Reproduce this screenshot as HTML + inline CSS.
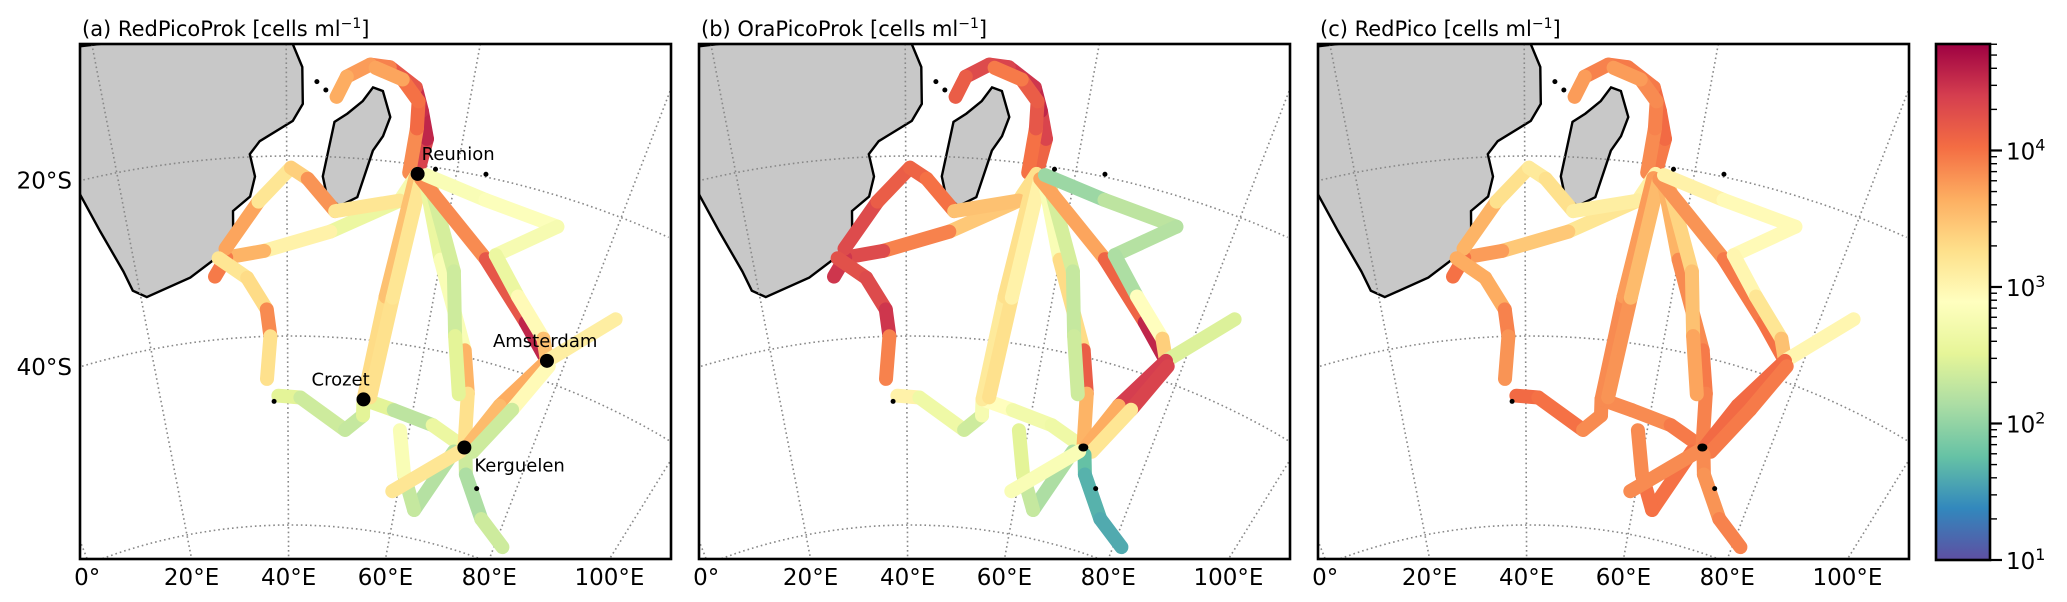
<!DOCTYPE html>
<html><head><meta charset="utf-8">
<style>
html,body{margin:0;padding:0;background:#fff;width:2067px;height:602px;overflow:hidden;}
svg{display:block;font-family:"DejaVu Sans","Liberation Sans",sans-serif;}
</style></head>
<body>
<svg id="fig" width="2067" height="602" viewBox="0 0 2067 602" xmlns="http://www.w3.org/2000/svg">
<defs>
<clipPath id="pclip"><rect x="0" y="44" width="591" height="515"/></clipPath>
<linearGradient id="cbgrad" x1="0" y1="1" x2="0" y2="0">
<stop offset="0" stop-color="#5e4fa2"/><stop offset="0.1" stop-color="#3288bd"/><stop offset="0.2" stop-color="#66c2a5"/><stop offset="0.3" stop-color="#abdda4"/><stop offset="0.4" stop-color="#e6f598"/><stop offset="0.5" stop-color="#ffffbf"/><stop offset="0.6" stop-color="#fee08b"/><stop offset="0.7" stop-color="#fdae61"/><stop offset="0.8" stop-color="#f46d43"/><stop offset="0.9" stop-color="#d53e4f"/><stop offset="1" stop-color="#9e0142"/>
</linearGradient>
</defs>
</svg>
<script>
// ---- data ----
const panelTitles = ["(a) RedPicoProk [cells ml", "(b) OraPicoProk [cells ml", "(c) RedPico [cells ml"];
const lonTicks = [0, 20, 40, 60, 80, 100];
const lonTickLabels = ["0°", "20°E", "40°E", "60°E", "80°E", "100°E"];
const latTicks = [-20, -40];
const latTickLabels = ["20°S", "40°S"];
const cbTicks = [1, 2, 3, 4];
const cbMin = 1, cbMax = 4.78;
// track waypoints (lon, lat)
const trackLon = [
 [55.5,56,55,54,51,48.9,46.5,45.5],
 [54.5,54.7,54.5,52.5,49.5],
 [55.5,53.8,45.5,37,32,30.3],
 [32,36.5,40.5,42.5,46,53.8],
 [31,34.6,37.1,37.5,36.8],
 [38.5,42,49.5,52.2,52,57,63.6,69.5],
 [52,53.5,55.3],
 [53,54.5,56],
 [56.5,60,65.8,67.8,69.5],
 [57,62,64,66.5],
 [56,65.7,73,77.5],
 [56.5,64,73.2,66.8,71,76,77.5],
 [77.5,84.1],
 [77.5,73,69.8],
 [78,75,71],
 [70,71,76,81.5],
 [68,63.6,60.5,58.5],
 [69,59]
];
const trackLat = [
 [-21,-17,-14,-11.5,-9.6,-9.5,-11,-13.3],
 [-21,-16,-13,-10.8,-9.8],
 [-21,-24.2,-28.3,-30.5,-31,-33],
 [-30,-25,-21.3,-22.5,-26,-24.2],
 [-31,-33.4,-37,-40,-44.5],
 [-46.3,-46.5,-49.7,-48,-46.3,-47,-47.8,-49.3],
 [-46.3,-35,-21.5],
 [-46,-35,-21.5],
 [-21.5,-30,-39.3,-43.7,-49.3],
 [-21.5,-31,-38,-44],
 [-21.5,-28.9,-34.5,-37.8],
 [-21,-22.5,-23.3,-28.2,-32,-35.6,-37.8],
 [-37.8,-30.7],
 [-37.8,-44,-49.3],
 [-38.3,-44,-49.5],
 [-50,-52,-56,-58],
 [-50,-57,-53.5,-49],
 [-49.8,-55.5]
];
// log10 abundance per waypoint, panel a / b / c
const valsA = [
 [4.2,4.5,4.6,4.4,4.0,3.8,3.7,3.6],[3.8,3.9,4.2,3.8,3.6],[3.0,2.5,2.7,3.4,3.8,4.1],[3.6,3.8,2.6,4.2,3.4,3.0],
 [3.5,2.9,3.7,4.0,2.5],[2.6,2.4,2.3,2.3,2.7,2.3,2.2,3.0],[3.0,3.6,3.4],[3.2,3.3,3.1],[2.8,2.4,3.2,4.0,2.5],
 [2.5,2.3,2.4,2.6],[3.8,3.9,4.5,4.6],[2.7,2.9,2.8,2.7,2.5,3.4,3.6],[3.3,2.9],[3.8,3.5,3.6],[3.5,2.4,2.3],
 [2.5,2.2,2.1,2.6],[2.4,2.0,2.6,3.0],[2.8,3.6]
];
const valsB = [
 [4.0,4.2,4.5,4.6,4.3,4.4,4.2,4.1],[3.9,4.1,4.3,4.0,3.9],[3.2,3.3,3.6,4.2,4.4,4.5],[4.3,4.3,4.0,4.2,3.8,3.2],
 [4.3,4.2,4.4,4.5,3.3],[3.0,3.1,2.2,2.5,3.0,2.8,2.6,2.7],[3.0,3.3,3.2],[3.4,3.1,3.0],[3.0,2.6,4.0,4.3,2.9],
 [2.6,2.2,2.4,2.3],[3.8,3.6,4.6,4.5],[2.2,1.9,2.6,1.8,2.5,3.3,3.5],[3.0,1.9],[4.3,4.5,2.8],[4.5,4.2,2.2],
 [2.0,1.5,1.8,1.4],[2.1,2.2,2.4,2.6],[2.6,3.0]
];
const valsC = [
 [3.9,4.0,4.1,4.0,3.9,4.0,3.8,3.7],[3.8,3.9,3.9,3.8,3.7],[3.0,3.1,3.3,3.6,3.9,4.1],[3.7,3.5,3.0,3.3,3.2,3.0],
 [3.8,3.5,3.8,4.0,3.6],[4.0,4.1,3.9,3.8,3.9,3.8,3.9,4.0],[3.8,3.9,3.6],[3.9,3.7,3.4],[3.4,3.8,3.9,4.0,3.8],
 [3.3,3.4,3.6,3.8],[3.7,3.9,4.0,4.0],[3.1,3.0,2.9,3.0,3.0,3.4,3.6],[3.2,2.8],[4.0,4.1,4.0],[3.9,4.0,3.9],
 [3.9,3.8,3.8,4.0],[3.9,4.1,3.9,3.8],[3.8,3.9]
];
const panelVals = [valsA, valsB, valsC];
// geography (in map lon/lat)
const africaLon = [40.7,41.7,41.8,40.7,36.9,35.7,36.2,35.5,33.3,33.1,30.2,27,20.8,19.1,18.4,16.6,15.2,12,10,15,40.7];
const africaLat = [-7.6,-10.1,-14.2,-16.1,-18.3,-19.7,-22.2,-24.4,-25.9,-28.8,-31.2,-32.8,-34.2,-33.2,-30.9,-26,-21.4,-17,-10,-5,-5];
const madaLon = [49.4,50.5,51.6,51,50,48.6,46.5,44.9,44.3,45.4,46.8,48.4];
const madaLat = [-12,-12.3,-15.1,-17.3,-19,-24.3,-25.4,-24.4,-22.2,-16.1,-15.1,-13.6];
const islandNames = ["Reunion","Crozet","Amsterdam","Kerguelen"];
const islandLon = [55.5,52,77.5,69.5];
const islandLat = [-21,-46.3,-37.8,-49.3];
const smallIslLon = [57.5,63.4,37.8,73.5,43.3,44.3];
const smallIslLat = [-20.2,-19.7,-46.9,-53.1,-11.7,-12.6];

// ---- projection / scales ----
const panelX = [80, 699, 1318];
const PW = 591, PT = 44, PB = 559;
const poleX = 211, poleY = 1072, coneN = 0.535, lon0 = 40.5;
function rad(lat){ return lat >= -40 ? 736 + (lat+40)*9.0 : 736 + (lat+40)*9.45; }
function proj(lon, lat){
  const a = (lon-lon0)*coneN*Math.PI/180, r = rad(lat);
  return [poleX + r*Math.sin(a), poleY - r*Math.cos(a)];
}
const stops = [[94,79,162],[50,136,189],[102,194,165],[171,221,164],[230,245,152],[255,255,191],[254,224,139],[253,174,97],[244,109,67],[213,62,79],[158,1,66]];
function cmap(v){
  let t = (v-cbMin)/(cbMax-cbMin); t = Math.max(0, Math.min(1, t));
  const f = t*10, i = Math.min(9, Math.floor(f)), u = f-i;
  const c = stops[i].map((s,k)=>Math.round(s+(stops[i+1][k]-s)*u));
  return `rgb(${c[0]},${c[1]},${c[2]})`;
}
function cbY(v){ return 560 - (v-cbMin)*(516/(cbMax-cbMin)); }

const NS = "http://www.w3.org/2000/svg";
const svg = document.getElementById("fig");
function mk(tag, attrs, parent){
  const e = document.createElementNS(NS, tag);
  for (const k in attrs) e.setAttribute(k, attrs[k]);
  parent.appendChild(e); return e;
}
function polyPts(lons, lats){ return lons.map((l,i)=>proj(l,lats[i]).map(v=>v.toFixed(1)).join(",")).join(" "); }

for (let p=0; p<3; p++){
  const g = mk("g", {transform:`translate(${panelX[p]},0)`}, svg);
  
  
  const cg = mk("g", {"clip-path":"url(#pclip)"}, g);
  const af = mk("polygon", {points: polyPts(africaLon, africaLat), fill:"#c8c8c8", stroke:"#000", "stroke-width":"2.4"}, cg);
  
  
  const md = mk("polygon", {points: polyPts(madaLon, madaLat), fill:"#c8c8c8", stroke:"#000", "stroke-width":"2.4"}, cg);
  
  
  const gg = mk("g", {stroke:"#888", "stroke-width":"1.6", "stroke-dasharray":"1.6 3", fill:"none"}, cg);
  
  
  for (let lon=-20; lon<=140; lon+=20){
    const a = (lon-lon0)*coneN*Math.PI/180;
    const rTop = (poleY-PT)/Math.cos(a), rBot = (poleY-PB)/Math.cos(a);
    const x1 = poleX + rTop*Math.sin(a), x2 = poleX + rBot*Math.sin(a);
    mk("line", {x1:x1.toFixed(1),y1:PT,x2:x2.toFixed(1),y2:PB}, gg);
  }
  for (const lat of [-20,-40,-60]){
    const pts=[];
    for (let lon=-40; lon<=160; lon+=1){
      const q = proj(lon, lat);
      if (q[0] >= -5 && q[0] <= PW+5 && q[1] <= PB+3) pts.push(q[0].toFixed(1)+","+q[1].toFixed(1));
    }
    mk("polyline", {points: pts.join(" ")}, gg);
  }
  const tg = mk("g", {"stroke-linecap":"round","stroke-width":"14", fill:"none"}, cg);
  
  
  const vals = panelVals[p];
  for (let t=0; t<trackLon.length; t++){
    for (let i=0; i<trackLon[t].length-1; i++){
      const a = proj(trackLon[t][i], trackLat[t][i]), b = proj(trackLon[t][i+1], trackLat[t][i+1]);
      const v = (vals[t][i]+vals[t][i+1])/2;
      const ln = mk("line", {x1:a[0].toFixed(1),y1:a[1].toFixed(1),x2:b[0].toFixed(1),y2:b[1].toFixed(1),stroke:cmap(v)}, tg);
      
      
    }
  }
  for (let i=0;i<smallIslLon.length;i++){
    const c = proj(smallIslLon[i], smallIslLat[i]);
    const d = mk("circle", {cx:c[0],cy:c[1],r:2.5,fill:"#000"}, cg);
    
    
  }
  const kc = proj(islandLon[3], islandLat[3]);
  mk("ellipse", {cx:kc[0],cy:kc[1],rx:5,ry:4,fill:"#000"}, cg);
  if (p===0){
    const offs = [[4,-14],[-52,-14],[-54,-14],[10,24]];
    for (let i=0;i<islandNames.length;i++){
      const c = proj(islandLon[i], islandLat[i]);
      const d = mk("circle", {cx:c[0],cy:c[1],r:7,fill:"#000"}, g);
      
      
      const tx = mk("text", {x:c[0]+offs[i][0], y:c[1]+offs[i][1], "font-size":"18", fill:"#000"}, g);
      tx.textContent = islandNames[i];
      
      
    }
    for (let i=0;i<latTicks.length;i++){
      let yy = 0;
      for (let lon=-40; lon<=40; lon+=0.2){ const q = proj(lon, latTicks[i]); if (q[0] >= 0){ yy = q[1]; break; } }
      const tx = mk("text", {x:-8, y:yy+8, "font-size":"23", "text-anchor":"end"}, g);
      tx.textContent = latTickLabels[i];
      
      
    }
  }
  const fr = mk("rect", {x:0,y:PT,width:PW,height:PB-PT,fill:"none",stroke:"#000","stroke-width":"2.6"}, g);
  
  
  const tt = mk("text", {x:2, y:36, "font-size":"21"}, g);
  
  
  tt.textContent = panelTitles[p];
  const sup = mk("tspan", {dy:"-8","font-size":"14"}, tt); sup.textContent = "−1";
  const cl = mk("tspan", {dy:"8"}, tt); cl.textContent = "]";
  for (let i=0;i<lonTicks.length;i++){
    const dy = poleY - PB, a = (lonTicks[i]-lon0)*coneN*Math.PI/180;
    const x = poleX + dy*Math.tan(a);
    const tx = mk("text", {x:x, y:585, "font-size":"23", "text-anchor":"middle"}, g);
    tx.textContent = lonTickLabels[i];
    
    
  }
}
const cb = mk("g", {}, svg);


mk("rect", {x:1936,y:44,width:54,height:516,fill:"url(#cbgrad)",stroke:"#000","stroke-width":"2.6"}, cb);
for (let d=1; d<=4; d++){
  for (let m=1; m<=9; m++){
    const v = d + Math.log10(m);
    if (v > cbMax) break;
    const y = cbY(v);
    mk("line", {x1:1990,y1:y,x2:m===1?2002:1997,y2:y,stroke:"#000","stroke-width":m===1?"2.2":"1.4"}, cb);
  }
}
for (const v of cbTicks){
  const tx = mk("text", {x:2006, y:cbY(v)+9, "font-size":"23"}, cb);
  
  
  tx.textContent = "10";
  const s = mk("tspan", {dy:"-9","font-size":"16"}, tx); s.textContent = String(v);
}
</script>
</body></html>
